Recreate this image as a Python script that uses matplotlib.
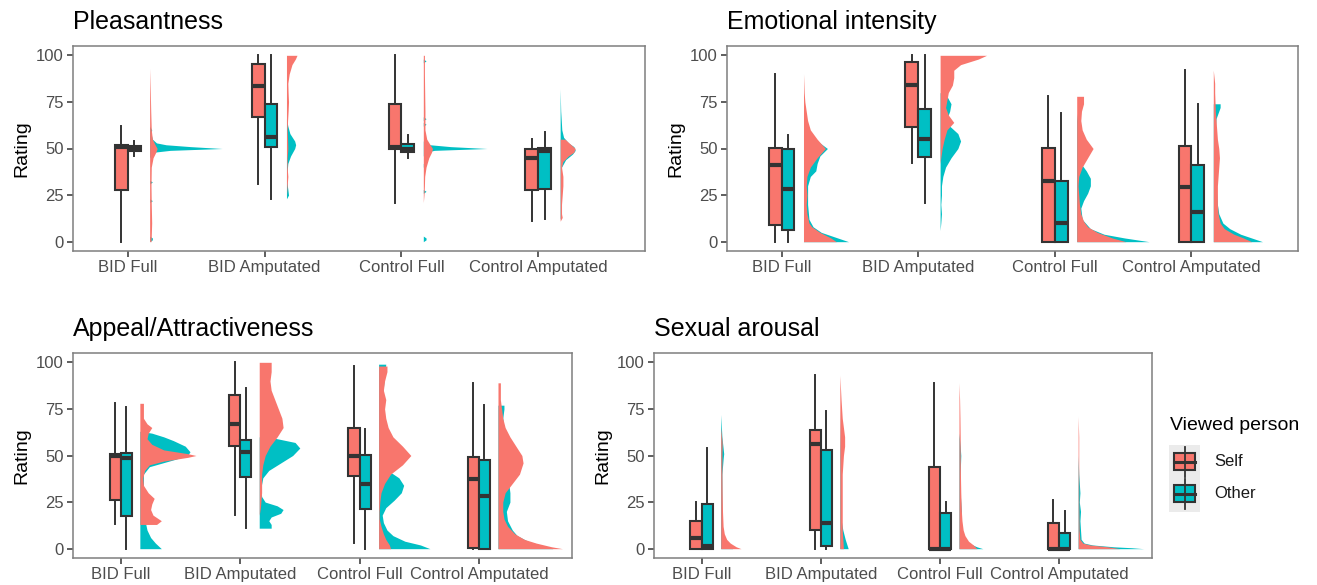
import numpy as np
import matplotlib.pyplot as plt
from matplotlib.patches import Rectangle

plt.rcParams['font.family'] = ['Liberation Sans', 'DejaVu Sans']

categories = ["BID Full", "BID Amputated", "Control Full", "Control Amputated"]
rating_ticks = [0, 25, 50, 75, 100]

# box stats per category: [low whisker, q1, median, q3, high whisker]
pleas_self_box = [[0, 28, 51, 52, 62], [31, 67, 83.5, 95.5, 100], [21, 49.5, 51, 74, 100], [11, 28, 45, 50, 55]]
pleas_other_box = [[46, 48.4, 50, 51.4, 54], [23, 51, 56, 74, 100], [45, 48, 50, 52.5, 57], [12, 28.5, 48.5, 50.5, 59]]
emo_self_box = [[0, 8.7, 41, 50.5, 90], [42, 61.5, 84, 96.5, 100], [0, 0, 32.5, 50.5, 78], [0, 0, 29.5, 51.5, 92]]
emo_other_box = [[0, 6.5, 28.5, 50, 57], [21, 45.5, 55, 71, 100], [0, 0, 9.8, 32.5, 69], [0, 0, 16, 41, 74]]
appeal_self_box = [[13, 26, 49.5, 51, 78], [18, 55, 66.8, 82.7, 100], [3, 38.8, 50, 64.8, 98], [0, 0.5, 37.5, 49.3, 89]]
appeal_other_box = [[0, 17.7, 48.4, 51.6, 76], [11, 38.4, 52, 58.2, 86], [0, 21.4, 34.6, 50.2, 64], [0, 0, 28.4, 47.7, 77]]
sex_self_box = [[0, 0, 6, 15, 25], [0, 9.8, 56, 63.8, 93], [0, 0, 0, 44, 89], [0, 0, 0, 13.8, 26]]
sex_other_box = [[0, 0, 1.6, 24, 54], [0, 1.6, 13.6, 53, 74], [0, 0, 0, 19.3, 25], [0, 0, 0, 8.4, 20]]

# half-violin outlines: rating levels and widths (category units)
pleas_self_y = [[0, 3, 10, 20, 30, 40, 45, 48, 50, 52, 55, 60, 70, 80, 93],
                [25, 30, 35, 40, 45, 50, 55, 60, 65, 70, 75, 80, 85, 90, 95, 98, 100],
                [21, 25, 30, 35, 40, 45, 48, 50, 52, 55, 60, 70, 80, 90, 100],
                [11, 13, 15, 20, 25, 30, 35, 40, 43, 46, 48, 50, 52, 55]]
pleas_self_w = [[0.01, 0.012, 0.015, 0.012, 0.01, 0.012, 0.025, 0.045, 0.055, 0.04, 0.02, 0.012, 0.008, 0.005, 0.0],
                [0.0, 0.005, 0.01, 0.005, 0.005, 0.01, 0.008, 0.005, 0.008, 0.012, 0.015, 0.012, 0.01, 0.02, 0.04, 0.065, 0.077],
                [0.0, 0.005, 0.008, 0.01, 0.02, 0.04, 0.06, 0.067, 0.05, 0.025, 0.012, 0.012, 0.01, 0.008, 0.008],
                [0.0, 0.015, 0.01, 0.01, 0.015, 0.02, 0.02, 0.01, 0.02, 0.06, 0.1, 0.11, 0.08, 0.035]]
pleas_other_y = [[0, 1, 2, 3, 21, 22, 23, 31, 32, 33, 45, 48, 49, 50, 51, 52, 53, 55, 58, 60, 62],
                 [23, 25, 28, 32, 38, 42, 46, 50, 52, 54, 58, 62, 66],
                 [0, 1, 2, 3, 26, 27, 28, 40, 41, 42, 46, 48, 49, 50, 51, 52, 54, 62, 63, 64, 65, 66, 67, 96, 97, 98],
                 [12, 15, 20, 30, 40, 44, 47, 49, 51, 53, 56, 60, 65, 70, 82]]
pleas_other_w = [[0.0, 0.02, 0.02, 0.0, 0.0, 0.02, 0.0, 0.0, 0.02, 0.0, 0.0, 0.03, 0.15, 0.53, 0.3, 0.12, 0.05, 0.02, 0.01, 0.015, 0.0],
                 [0.0, 0.015, 0.01, 0.003, 0.005, 0.01, 0.03, 0.06, 0.067, 0.06, 0.025, 0.01, 0.0],
                 [0.0, 0.02, 0.02, 0.0, 0.0, 0.02, 0.0, 0.0, 0.02, 0.0, 0.0, 0.02, 0.08, 0.465, 0.2, 0.05, 0.0, 0.0, 0.02, 0.0, 0.0, 0.02, 0.0, 0.0, 0.02, 0.0],
                 [0.0, 0.01, 0.005, 0.005, 0.01, 0.04, 0.09, 0.11, 0.1, 0.06, 0.025, 0.012, 0.008, 0.004, 0.0]]

emo_self_y = [[0, 2, 5, 8, 10, 15, 20, 25, 30, 35, 40, 45, 50, 55, 60, 65, 70, 75, 80, 90],
              [42, 45, 50, 55, 60, 64, 68, 72, 76, 80, 84, 88, 92, 95, 98, 100],
              [0, 2, 5, 8, 11, 15, 20, 25, 30, 35, 40, 45, 50, 55, 60, 65, 70, 74, 78],
              [0, 2, 4, 7, 10, 15, 20, 25, 30, 35, 40, 45, 50, 55, 60, 70, 80, 85, 92]]
emo_self_w = [[0.24, 0.2, 0.12, 0.06, 0.04, 0.025, 0.02, 0.025, 0.02, 0.025, 0.05, 0.1, 0.16, 0.1, 0.05, 0.03, 0.02, 0.01, 0.005, 0.0],
              [0.0, 0.005, 0.015, 0.03, 0.05, 0.1, 0.06, 0.04, 0.05, 0.06, 0.09, 0.1, 0.1, 0.15, 0.28, 0.34],
              [0.36, 0.26, 0.15, 0.08, 0.05, 0.03, 0.02, 0.015, 0.01, 0.015, 0.04, 0.08, 0.12, 0.07, 0.04, 0.03, 0.035, 0.05, 0.05],
              [0.28, 0.22, 0.15, 0.08, 0.05, 0.035, 0.03, 0.03, 0.03, 0.035, 0.04, 0.045, 0.04, 0.03, 0.025, 0.015, 0.01, 0.01, 0.0]]
emo_other_y = [[0, 2, 5, 8, 12, 20, 25, 30, 35, 38, 42, 46, 50, 53, 57],
               [6, 10, 15, 20, 25, 30, 35, 40, 45, 50, 54, 58, 62, 66, 70, 74, 78, 80],
               [0, 2, 4, 7, 12, 18, 22, 26, 30, 34, 38, 42, 48, 55, 62, 69],
               [0, 2, 4, 7, 10, 15, 20, 25, 30, 40, 50, 60, 66, 70, 72, 74]]
emo_other_w = [[0.33, 0.25, 0.13, 0.07, 0.04, 0.03, 0.03, 0.03, 0.05, 0.09, 0.1, 0.12, 0.175, 0.12, 0.04],
               [0.0, 0.005, 0.01, 0.005, 0.01, 0.01, 0.02, 0.04, 0.08, 0.13, 0.15, 0.13, 0.07, 0.05, 0.07, 0.08, 0.05, 0.0],
               [0.53, 0.35, 0.2, 0.1, 0.04, 0.03, 0.05, 0.08, 0.1, 0.1, 0.07, 0.03, 0.01, 0.008, 0.01, 0.0],
               [0.36, 0.28, 0.2, 0.12, 0.07, 0.04, 0.03, 0.025, 0.02, 0.015, 0.012, 0.015, 0.02, 0.04, 0.05, 0.05]]

appeal_self_y = [[13, 15, 18, 21, 24, 27, 30, 34, 38, 42, 45, 47, 49, 50, 51, 53, 56, 59, 62, 65, 67, 70, 74, 78],
                 [18, 22, 26, 30, 35, 40, 45, 50, 55, 60, 65, 70, 75, 80, 85, 90, 95, 100],
                 [0, 2, 5, 8, 12, 16, 20, 25, 30, 35, 40, 45, 50, 55, 60, 65, 70, 75, 80, 85, 90, 95, 98],
                 [0, 1, 3, 5, 8, 12, 16, 20, 25, 30, 35, 40, 46, 50, 55, 60, 65, 70, 75, 80, 85, 89]]
appeal_self_w = [[0.14, 0.18, 0.11, 0.09, 0.1, 0.12, 0.07, 0.03, 0.025, 0.04, 0.08, 0.2, 0.4, 0.47, 0.4, 0.2, 0.1, 0.06, 0.07, 0.1, 0.06, 0.03, 0.03, 0.03],
                 [0.0, 0.01, 0.015, 0.02, 0.02, 0.02, 0.03, 0.05, 0.09, 0.15, 0.2, 0.19, 0.16, 0.13, 0.1, 0.09, 0.1, 0.1],
                 [0.1, 0.09, 0.06, 0.04, 0.02, 0.005, 0.005, 0.01, 0.02, 0.05, 0.1, 0.2, 0.27, 0.2, 0.12, 0.08, 0.06, 0.05, 0.06, 0.04, 0.05, 0.07, 0.07],
                 [0.54, 0.45, 0.32, 0.22, 0.14, 0.08, 0.05, 0.04, 0.04, 0.06, 0.12, 0.18, 0.21, 0.2, 0.15, 0.1, 0.06, 0.04, 0.03, 0.02, 0.02, 0.02]]
appeal_other_y = [[0, 3, 6, 10, 13, 20, 25, 30, 36, 40, 44, 48, 50, 52, 55, 58, 60, 62, 63],
                  [11, 13, 15, 17, 19, 21, 23, 25, 28, 33, 38, 42, 46, 50, 54, 57, 59, 60],
                  [0, 2, 4, 7, 10, 14, 18, 22, 26, 30, 34, 38, 41, 45, 60, 80, 99],
                  [0, 2, 4, 7, 10, 15, 20, 25, 30, 40, 50, 60, 70, 75, 77]]
appeal_other_w = [[0.18, 0.13, 0.09, 0.06, 0.05, 0.07, 0.05, 0.03, 0.03, 0.03, 0.08, 0.3, 0.4, 0.42, 0.38, 0.28, 0.2, 0.1, 0.0],
                  [0.1, 0.1, 0.08, 0.1, 0.18, 0.2, 0.15, 0.05, 0.02, 0.015, 0.03, 0.08, 0.18, 0.28, 0.34, 0.3, 0.15, 0.05],
                  [0.43, 0.35, 0.22, 0.12, 0.07, 0.04, 0.03, 0.06, 0.13, 0.19, 0.21, 0.17, 0.1, 0.02, 0.03, 0.03, 0.06],
                  [0.46, 0.35, 0.25, 0.16, 0.12, 0.08, 0.07, 0.1, 0.1, 0.08, 0.07, 0.06, 0.04, 0.05, 0.05]]

sex_self_y = [[0, 1, 3, 5, 8, 12, 20, 30, 40, 50, 57, 65],
              [0, 5, 10, 20, 30, 40, 50, 55, 60, 65, 70, 80, 93],
              [0, 2, 4, 7, 10, 15, 20, 30, 40, 50, 60, 70, 80, 89],
              [0, 1, 2, 3, 5, 10, 20, 30, 40, 50, 60, 71]]
sex_self_w = [[0.17, 0.13, 0.08, 0.05, 0.03, 0.02, 0.015, 0.012, 0.01, 0.01, 0.012, 0.0],
              [0.03, 0.025, 0.02, 0.02, 0.02, 0.02, 0.03, 0.04, 0.04, 0.03, 0.02, 0.01, 0.0],
              [0.15, 0.12, 0.08, 0.05, 0.035, 0.025, 0.02, 0.015, 0.012, 0.01, 0.01, 0.008, 0.005, 0.0],
              [0.35, 0.25, 0.1, 0.04, 0.015, 0.008, 0.006, 0.005, 0.005, 0.005, 0.005, 0.0]]
sex_other_y = [[0, 2, 5, 10, 20, 30, 40, 48, 51, 54, 60, 72],
               [0, 2, 5, 10, 15, 20, 30, 40, 50, 60, 75],
               [0, 1, 3, 6, 10, 15, 20, 25, 30, 40, 50, 55, 62],
               [0, 0.5, 1, 2, 3, 5, 10, 15, 20, 25, 30, 40, 50]]
sex_other_w = [[0.1, 0.06, 0.03, 0.015, 0.01, 0.01, 0.01, 0.02, 0.025, 0.02, 0.01, 0.0],
               [0.07, 0.06, 0.045, 0.025, 0.012, 0.008, 0.005, 0.005, 0.005, 0.003, 0.0],
               [0.2, 0.15, 0.08, 0.04, 0.02, 0.015, 0.02, 0.015, 0.01, 0.01, 0.015, 0.01, 0.0],
               [0.55, 0.45, 0.3, 0.12, 0.05, 0.025, 0.02, 0.015, 0.02, 0.01, 0.015, 0.005, 0.0]]

RED = '#F8766D'
TEAL = '#00BFC4'
DARK = '#333333'
W, H = 1317, 585


def box_stats(rows):
    return [dict(whislo=r[0], q1=r[1], med=r[2], q3=r[3], whishi=r[4]) for r in rows]


def draw_panel(rect, title, sbox, obox, sy, sw, oy, ow):
    x0, y0, x1, y1 = rect
    ax = fig.add_axes([x0 / W, 1 - y1 / H, (x1 - x0) / W, (y1 - y0) / H])
    pos = np.arange(1, 5)
    # half violins, Other first so Self sits on top
    for i in range(4):
        base = pos[i] + 0.16
        ax.fill_betweenx(oy[i], base, base + np.array(ow[i]), color=TEAL, lw=0)
        ax.fill_betweenx(sy[i], base, base + np.array(sw[i]), color=RED, lw=0)
    common = dict(widths=0.094, patch_artist=True, showfliers=False, showcaps=False,
                  whiskerprops=dict(color=DARK, linewidth=1.4),
                  medianprops=dict(color=DARK, linewidth=3.0, solid_capstyle='butt'))
    ax.bxp(box_stats(sbox), positions=pos - 0.047,
           boxprops=dict(facecolor=RED, edgecolor=DARK, linewidth=1.5), **common)
    ax.bxp(box_stats(obox), positions=pos + 0.047,
           boxprops=dict(facecolor=TEAL, edgecolor=DARK, linewidth=1.5), **common)
    ax.set_xlim(0.6, 4.78)
    ax.set_ylim(-5, 105)
    ax.set_xticks(pos)
    ax.set_xticklabels(categories)
    ax.set_yticks(rating_ticks)
    ax.set_yticklabels([str(t) for t in rating_ticks])
    ax.tick_params(colors=DARK, labelcolor='#4D4D4D', labelsize=12, length=4, width=1.1, pad=2.5)
    for s in ax.spines.values():
        s.set_color('#7F7F7F')
        s.set_linewidth(1.1)
    ax.set_ylabel("Rating", fontsize=14, labelpad=4)
    fig.text(x0 / W, 1 - (y0 - 17) / H, title, fontsize=18, ha='left', va='baseline')
    return ax


fig = plt.figure(figsize=(W / 100, H / 100), dpi=100)

draw_panel((73, 46, 645, 251), "Pleasantness", pleas_self_box, pleas_other_box,
           pleas_self_y, pleas_self_w, pleas_other_y, pleas_other_w)
draw_panel((727, 46, 1298, 251), "Emotional intensity", emo_self_box, emo_other_box,
           emo_self_y, emo_self_w, emo_other_y, emo_other_w)
draw_panel((73, 353, 572, 558), "Appeal/Attractiveness", appeal_self_box, appeal_other_box,
           appeal_self_y, appeal_self_w, appeal_other_y, appeal_other_w)
draw_panel((654, 353, 1152, 558), "Sexual arousal", sex_self_box, sex_other_box,
           sex_self_y, sex_self_w, sex_other_y, sex_other_w)

# legend
lg = fig.add_axes([0, 0, 1, 1])
lg.set_xlim(0, W)
lg.set_ylim(H, 0)
lg.axis('off')
lg.add_patch(Rectangle((1169, 445), 31, 67, color='#EBEBEB', lw=0))
for cy, col, lab in [(461.5, RED, "Self"), (493.5, TEAL, "Other")]:
    lg.plot([1184.5, 1184.5], [cy - 15, cy + 15], color=DARK, lw=1.3)
    lg.add_patch(Rectangle((1174, cy - 8.5), 21, 17, facecolor=col, edgecolor=DARK, lw=1.5))
    lg.plot([1174, 1195], [cy, cy], color=DARK, lw=2.2)
    lg.text(1214, cy, lab, fontsize=12, va='center', ha='left', color='#1A1A1A')
lg.text(1170, 426, "Viewed person", fontsize=14, va='center', ha='left')

fig.savefig("out.png", dpi=100)
